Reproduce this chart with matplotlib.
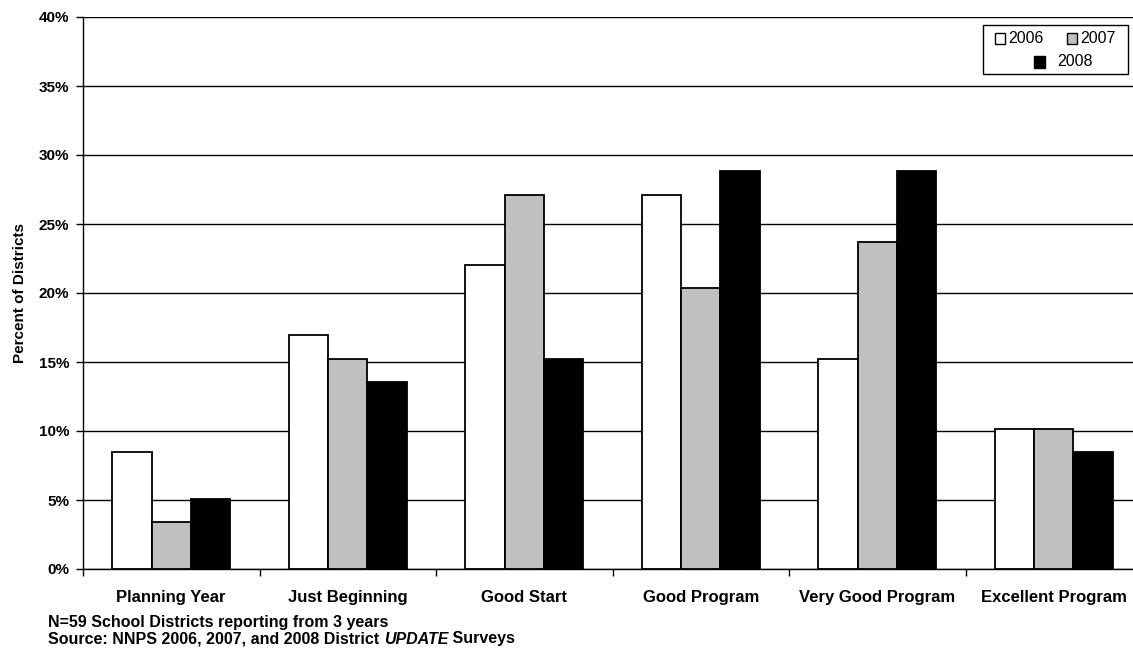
import matplotlib
matplotlib.use("Agg")
import matplotlib.pyplot as plt
from matplotlib.patches import Rectangle
import numpy as np

plt.rcParams['font.family'] = ['Liberation Sans', 'DejaVu Sans']

categories = ["Planning Year", "Just Beginning", "Good Start", "Good Program",
              "Very Good Program", "Excellent Program"]
years = ["2006", "2007", "2008"]
pct_2006 = [8.47, 16.95, 22.03, 27.12, 15.25, 10.17]
pct_2007 = [3.39, 15.25, 27.12, 20.34, 23.73, 10.17]
pct_2008 = [5.08, 13.56, 15.25, 28.81, 28.81, 8.47]
yticks = [0, 5, 10, 15, 20, 25, 30, 35, 40]

series = [pct_2006, pct_2007, pct_2008]
colors = ["white", "#C0C0C0", "black"]

W, H = 1133, 652
fig = plt.figure(figsize=(W / 100, H / 100), dpi=100)
ax = fig.add_axes([83 / W, (H - 569) / H, 1059 / W, 552 / H])

x = np.arange(len(categories))
bw = 0.222
for i, (vals, col) in enumerate(zip(series, colors)):
    ax.bar(x + (i - 1) * bw, vals, width=bw, color=col, edgecolor="black",
           linewidth=1.3, zorder=3)

ax.set_xlim(-0.5, len(categories) - 0.5)
ax.set_ylim(0, 40)
ax.set_yticks(yticks)
ax.set_yticklabels([f"{v}%" for v in yticks], fontsize=11, fontweight="bold")
ax.yaxis.grid(True, color="black", linewidth=1.0, zorder=0)
ax.set_axisbelow(True)

ax.set_xticks(x)
ax.set_xticklabels(categories, fontsize=12, fontweight="bold")
ax.tick_params(axis="x", which="major", length=0, pad=15)
ax.set_xticks(np.arange(-0.5, len(categories) + 0.5, 1), minor=True)
ax.tick_params(axis="x", which="minor", length=5, width=1, direction="out")
ax.tick_params(axis="y", length=5, width=1, direction="out", pad=5)

for s in ["top", "right"]:
    ax.spines[s].set_visible(False)
for s in ["left", "bottom"]:
    ax.spines[s].set_color("black")
    ax.spines[s].set_linewidth(1.0)

ax.set_ylabel("Percent of Districts", fontsize=11, fontweight="bold", labelpad=8)

# legend box drawn in figure pixels
def fx(px):
    return px / W

def fy(py):
    return (H - py) / H

fig.add_artist(Rectangle((fx(983), fy(74)), fx(1128) - fx(983), fy(25) - fy(74),
                         transform=fig.transFigure, facecolor="white",
                         edgecolor="black", linewidth=1.0, zorder=5))
# (marker left, row centre, text left, marker size)
legend_items = [(995, 38.5, 1008, 10), (1067, 38.5, 1080, 10), (1034, 62, 1057, 11)]
for (bx, cy, tx, sz), col, yr in zip(legend_items, colors, years):
    fig.add_artist(Rectangle((fx(bx), fy(cy + sz / 2)), sz / W, sz / H,
                             transform=fig.transFigure, facecolor=col,
                             edgecolor="black", linewidth=1.0, zorder=6))
    fig.text(fx(tx), fy(cy), yr, fontsize=11.5, va="center", ha="left", zorder=6)

# footnotes
fig.text(fx(48), fy(622), "N=59 School Districts reporting from 3 years",
         fontsize=11.5, fontweight="bold", va="center", ha="left")
renderer = fig.canvas.get_renderer()
parts = [("Source: NNPS 2006, 2007, and 2008 District ", "normal"),
         ("UPDATE", "italic"), (" Surveys", "normal")]
xpos = fx(48)
for txt, style in parts:
    t = fig.text(xpos, fy(639), txt, fontsize=11.5, fontweight="bold",
                 style=style, va="center", ha="left")
    bb = t.get_window_extent(renderer=renderer)
    xpos = bb.x1 / W

fig.savefig("out.png", dpi=100)
